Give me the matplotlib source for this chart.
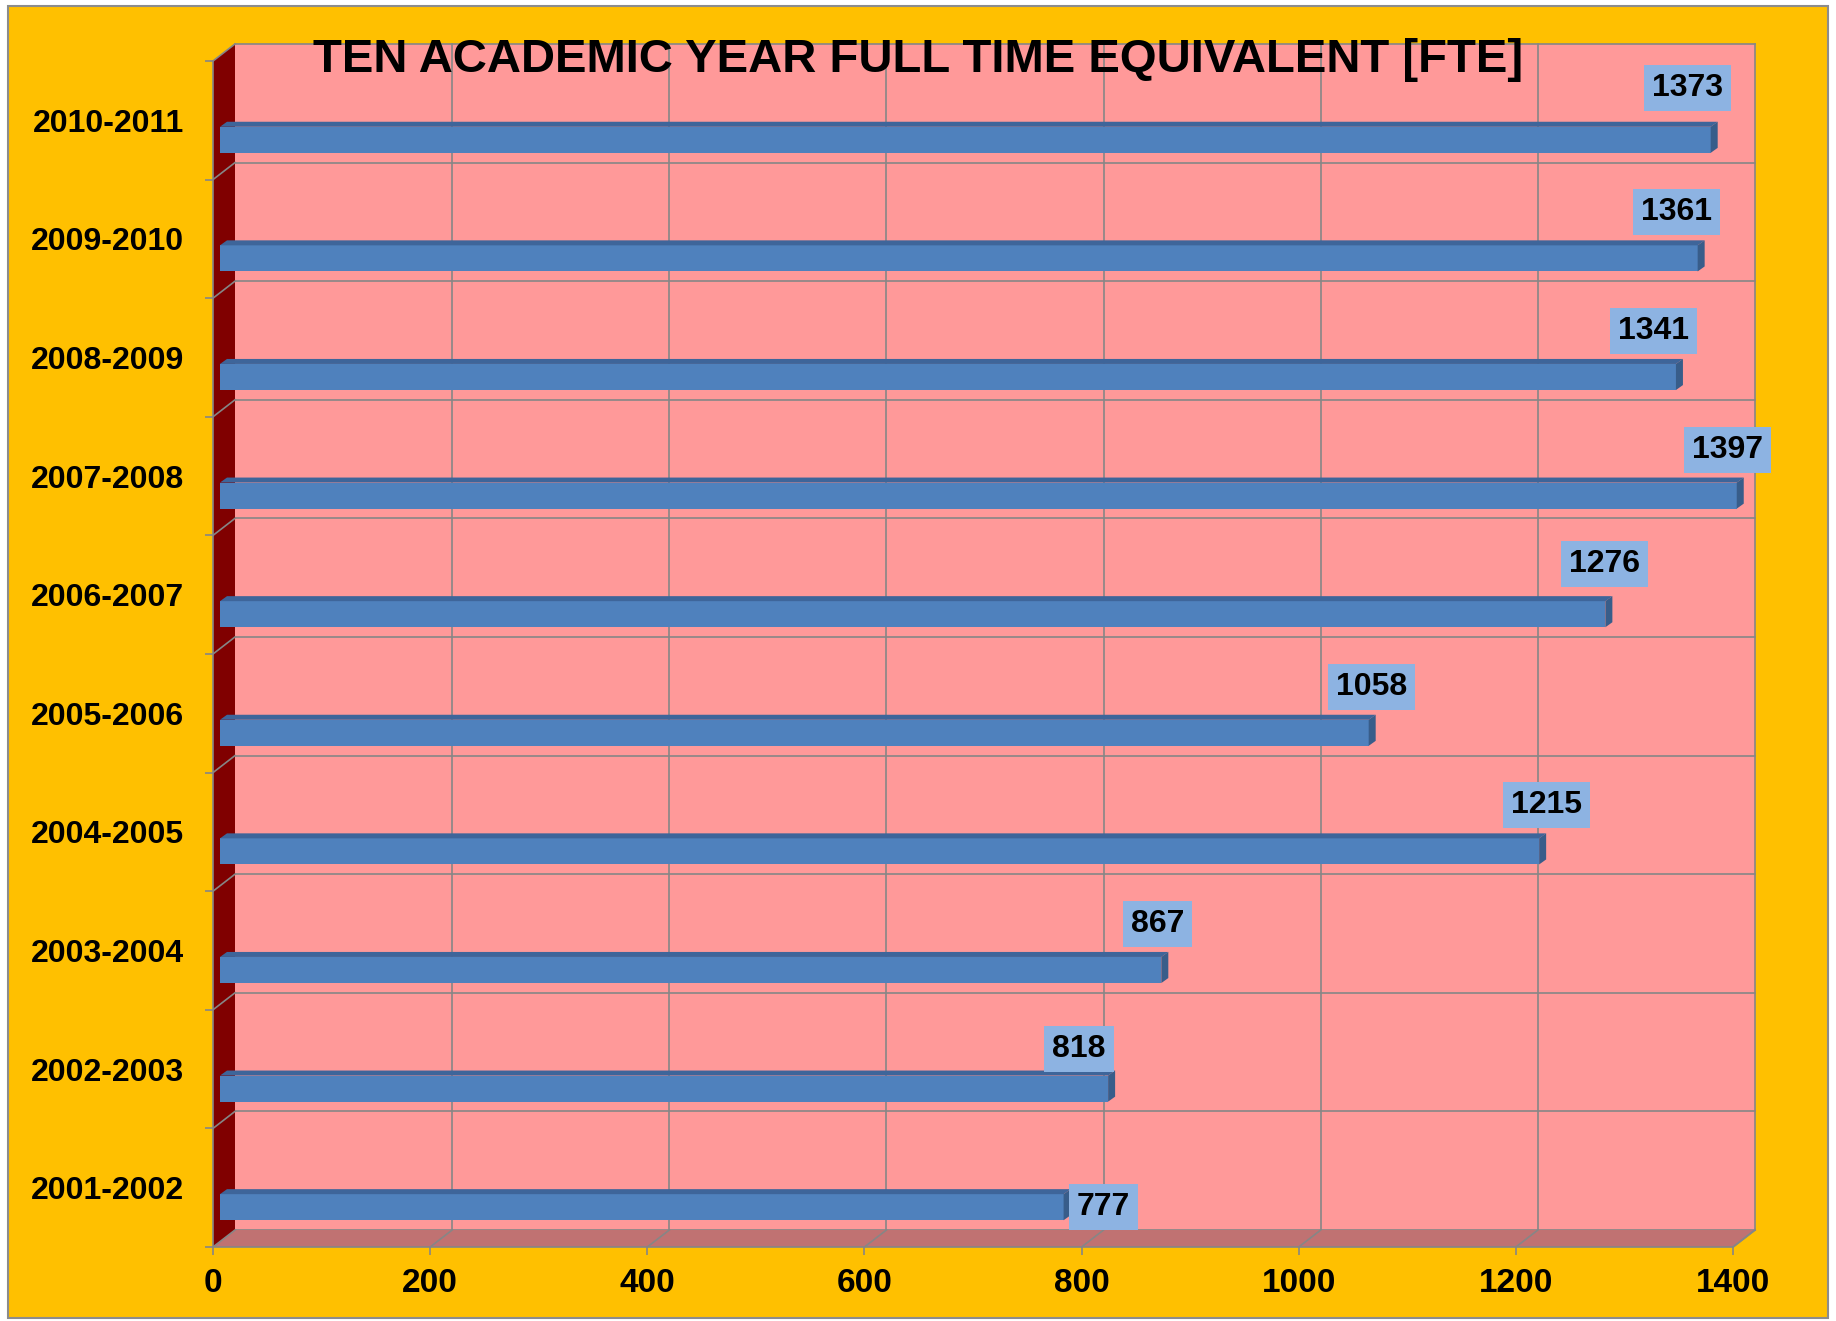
import numpy as np
import matplotlib
matplotlib.use("Agg")
import matplotlib.pyplot as plt
from matplotlib.patches import Polygon, Rectangle
from matplotlib.lines import Line2D
from matplotlib.transforms import IdentityTransform, ScaledTranslation

# -----------------------------
# data
# -----------------------------
years = ["2001-2002", "2002-2003", "2003-2004", "2004-2005", "2005-2006",
         "2006-2007", "2007-2008", "2008-2009", "2009-2010", "2010-2011"]
fte = [777, 818, 867, 1215, 1058, 1276, 1397, 1341, 1361, 1373]
x_ticks = [0, 200, 400, 600, 800, 1000, 1200, 1400]
title = "TEN ACADEMIC YEAR FULL TIME EQUIVALENT [FTE]"

# label nudges in pixels (relative to bar end / bar centre)
label_dx = [40, -29, -4, 7, 3, -1, -9, -22, -21, -23]
label_dy = [0, -40, -46, -46, -46, -50, -46, -46, -46, -52]

# -----------------------------
# style
# -----------------------------
YELLOW = "#FFC000"
WALL = "#FF9999"
SIDE_WALL = "#800000"
FLOOR = "#C07272"
GRID = "#868686"
BAR = "#4F81BD"
BAR_TOP = "#3E659A"
BAR_SIDE = "#385D8A"
LABEL_BOX = "#8DB3E2"

plt.rcParams["font.family"] = ["Liberation Sans", "DejaVu Sans"]
plt.rcParams["font.weight"] = "bold"

DPI = 100
W, H = 1836, 1321
DX, DY = 22, 17          # depth of the 3d box, px
BDX, BDY = 7, 5          # depth of each bar, px
BAR_H = 0.22

fig = plt.figure(figsize=(W / DPI, H / DPI), dpi=DPI, facecolor="white")
fig.add_artist(Rectangle((8 / W, 3 / H), (W - 16) / W, (H - 9) / H,
                         transform=fig.transFigure, facecolor=YELLOW,
                         edgecolor="#8C8C8C", lw=1.5, zorder=0))

# front plane of the 3d box
ax = fig.add_axes([213 / W, 1 - 1247 / H, 1520 / W, (1247 - 61) / H])
n = len(years)
y = np.arange(n)
ax.set_xlim(0, 1400)
ax.set_ylim(-0.5, n - 0.5)
ax.patch.set_visible(False)
for s in ["top", "right"]:
    ax.spines[s].set_visible(False)
for s in ["left", "bottom"]:
    ax.spines[s].set_color(GRID)
    ax.spines[s].set_linewidth(1.2)
    ax.spines[s].set_zorder(1)

d = np.array([DX, DY])
def P(x, yy):
    return ax.transData.transform((x, yy))

def poly(pts, color, z):
    ax.add_patch(Polygon(np.array(pts), closed=True, facecolor=color, edgecolor="none",
                         transform=IdentityTransform(), clip_on=False, zorder=z))

def seg(a, b, z=0.6, color=GRID, lw=1.2):
    ax.add_line(Line2D([a[0], b[0]], [a[1], b[1]], color=color, lw=lw,
                       transform=IdentityTransform(), clip_on=False, zorder=z))

lo, hi = -0.5, n - 0.5
x0, x1 = x_ticks[0], x_ticks[-1]

# walls + floor
poly([P(x0, lo) + d, P(x1, lo) + d, P(x1, hi) + d, P(x0, hi) + d], WALL, 0.5)
poly([P(x0, lo), P(x0, hi), P(x0, hi) + d, P(x0, lo) + d], SIDE_WALL, 0.7)
poly([P(x0, lo), P(x1, lo), P(x1, lo) + d, P(x0, lo) + d], FLOOR, 0.7)

# grid on back wall, floor and side wall
for xt in x_ticks[1:]:
    seg(P(xt, lo) + d, P(xt, hi) + d)
    seg(P(xt, lo), P(xt, lo) + d, z=0.8)
for b in np.arange(n + 1) - 0.5:
    seg(P(x0, b) + d, P(x1, b) + d)
    seg(P(x0, b), P(x0, b) + d, z=0.8)
seg(P(x1, lo), P(x1, lo) + d, z=0.8)

# bars (front face via barh, shifted a bit into the box)
bar_off = ax.transData + ScaledTranslation(7 / DPI, -19.5 / DPI, fig.dpi_scale_trans)
bars = ax.barh(y, fte, height=BAR_H, left=0, color=BAR, edgecolor="none",
               transform=bar_off, zorder=2)
for r in bars:
    r.set_clip_on(False)
bd = np.array([BDX, BDY])
for yi, v, dx, dy in zip(y, fte, label_dx, label_dy):
    tl = bar_off.transform((0, yi + BAR_H / 2))
    tr = bar_off.transform((v, yi + BAR_H / 2))
    br = bar_off.transform((v, yi - BAR_H / 2))
    poly([tl, tr, tr + bd, tl + bd], BAR_TOP, 2.1)
    poly([br, tr, tr + bd, br + bd], BAR_SIDE, 2.1)
    end = bar_off.transform((v, yi))
    ax.annotate(str(v), xy=end, xycoords="figure pixels",
                xytext=(dx, -dy), textcoords="offset pixels",
                ha="center", va="center", fontsize=23, fontweight="bold",
                color="black", zorder=3, annotation_clip=False,
                bbox=dict(boxstyle="square,pad=0.25", fc=LABEL_BOX, ec="none"))

# axes ticks
ax.set_yticks(y)
ax.set_yticklabels(years)
ax.set_yticks(np.arange(n + 1) - 0.5, minor=True)
ax.tick_params(axis="y", which="major", length=0, pad=21, labelsize=23)
ax.tick_params(axis="y", which="minor", length=6, width=1.2, color=GRID)
ax.set_xticks(x_ticks)
ax.set_xticklabels([str(t) for t in x_ticks])
ax.tick_params(axis="x", length=6, width=1.2, color=GRID, pad=9, labelsize=24)

fig.text(0.5, 1 - 72 / H, title, ha="center", va="baseline",
         fontsize=34, fontweight="bold", zorder=5)

fig.savefig("out.png", dpi=DPI, facecolor=fig.get_facecolor())
